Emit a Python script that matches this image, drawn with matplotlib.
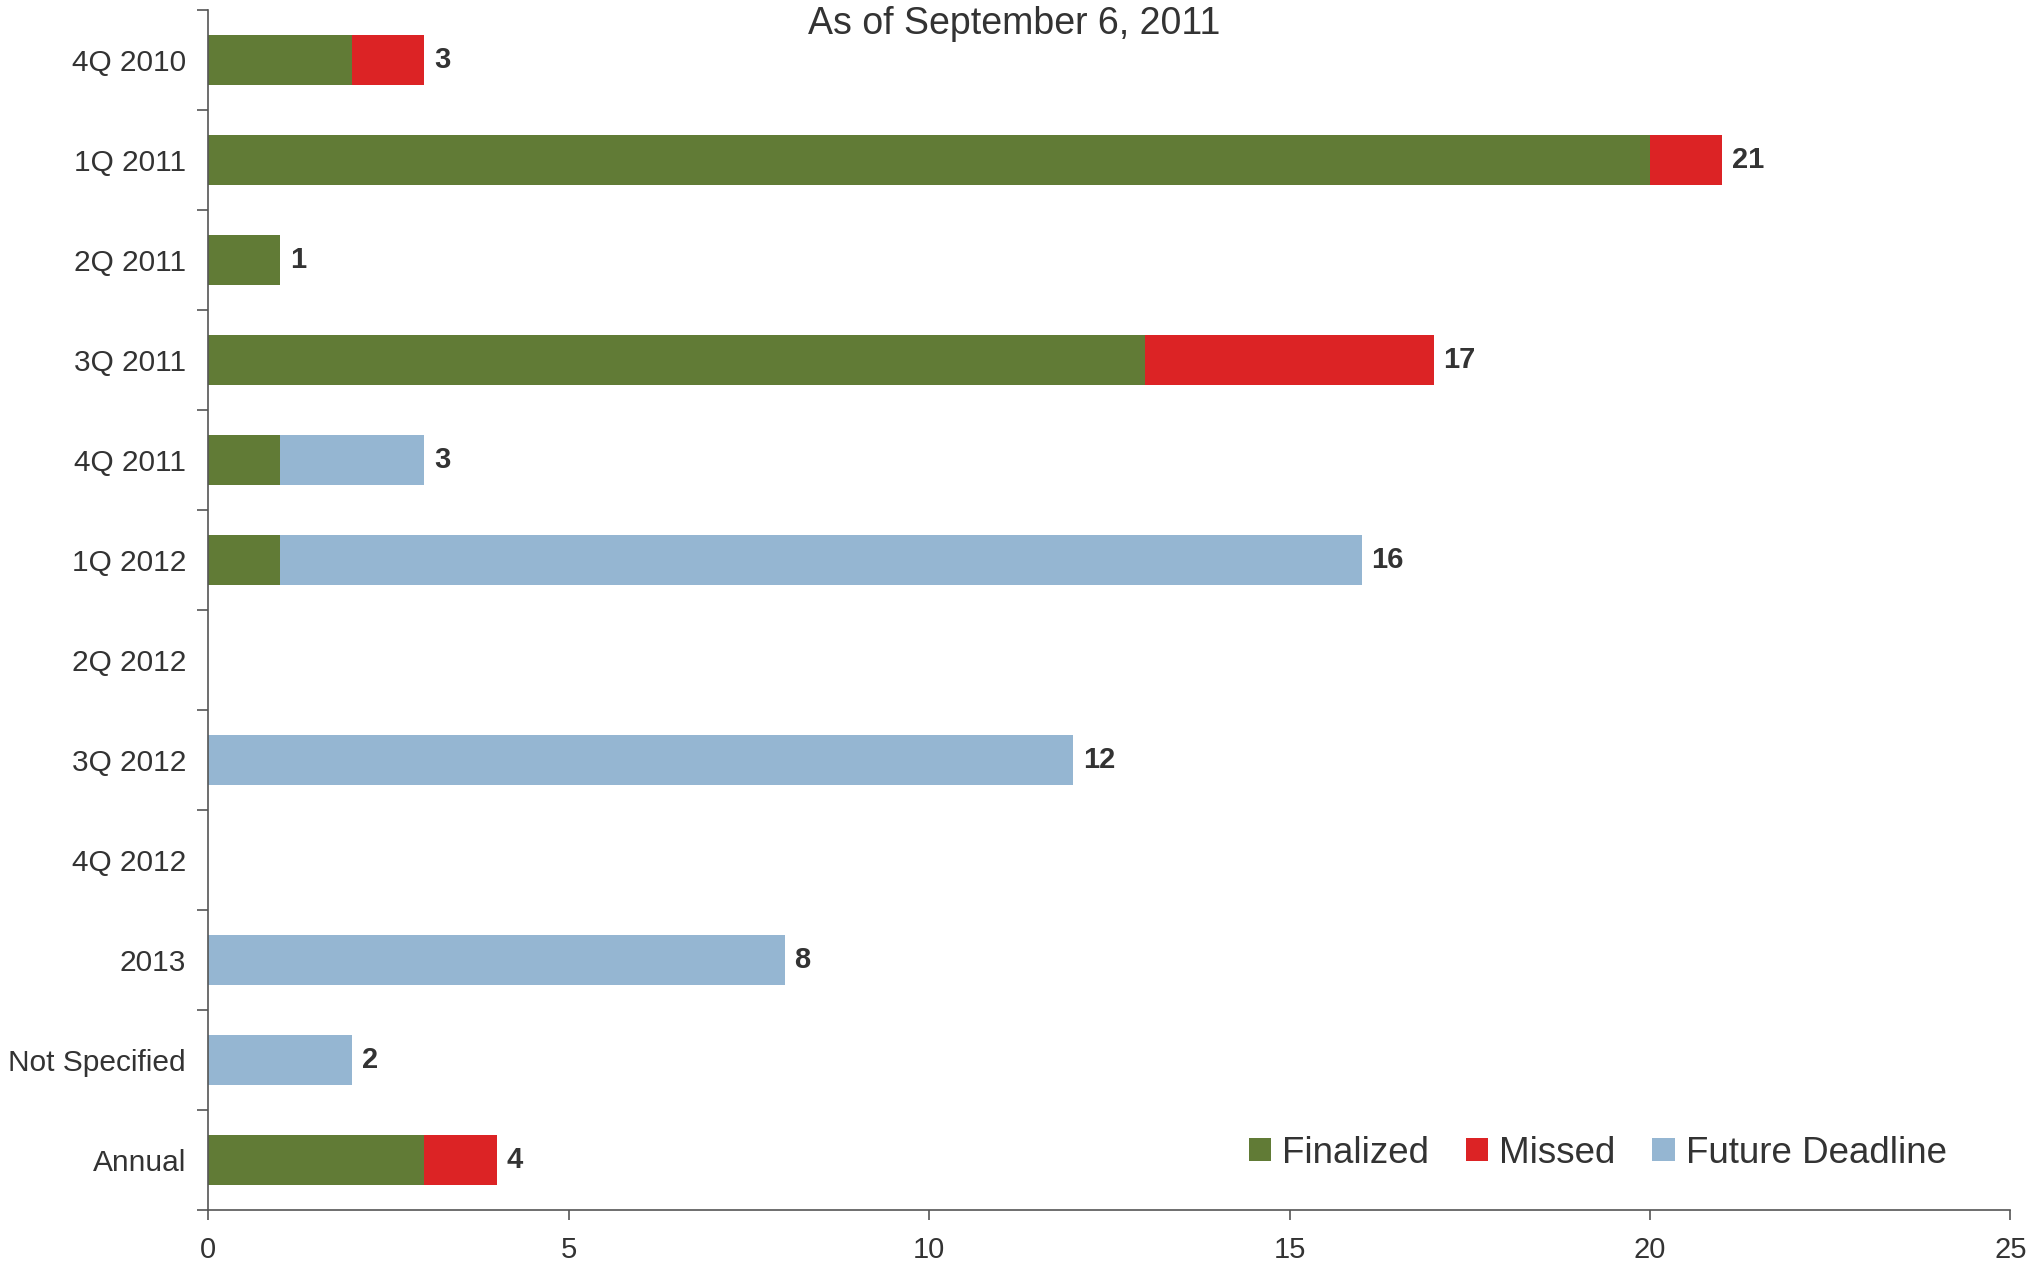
import numpy as np
import matplotlib
matplotlib.use('Agg')
import matplotlib.pyplot as plt
from matplotlib.ticker import FixedLocator

categories = ["4Q 2010", "1Q 2011", "2Q 2011", "3Q 2011", "4Q 2011", "1Q 2012",
              "2Q 2012", "3Q 2012", "4Q 2012", "2013", "Not Specified", "Annual"]
finalized = [2, 20, 1, 13, 1, 1, 0, 0, 0, 0, 0, 3]
missed = [1, 1, 0, 4, 0, 0, 0, 0, 0, 0, 0, 1]
future = [0, 0, 0, 0, 2, 15, 0, 12, 0, 8, 2, 0]
x_ticks = [0, 5, 10, 15, 20, 25]

green = "#617b36"
red = "#dc2325"
blue = "#95b6d2"
txt = "#333333"
plt.rcParams['font.family'] = ['Liberation Sans', 'DejaVu Sans']

fig = plt.figure(figsize=(20.41, 12.70), dpi=100)
ax = fig.add_axes([0.102, 0.0475, 0.883, 0.9445])

y = np.arange(len(categories))
fin = np.array(finalized)
mis = np.array(missed)
fut = np.array(future)
ax.barh(y, fin, height=0.5, color=green, label="Finalized")
ax.barh(y, mis, height=0.5, left=fin, color=red, label="Missed")
ax.barh(y, fut, height=0.5, left=fin + mis, color=blue, label="Future Deadline")

totals = fin + mis + fut
for i in range(len(categories)):
  if totals[i] > 0:
    ax.annotate(str(totals[i]), (totals[i], y[i]), xytext=(7, 0), textcoords="offset points",
                ha="left", va="center", fontsize=21, fontweight="bold", color=txt)

ax.set_xlim(0, 25)
ax.set_ylim(len(categories) - 0.5, -0.5)
ax.set_xticks(x_ticks)
ax.set_yticks(y)
ax.set_yticklabels(categories)
ax.yaxis.set_minor_locator(FixedLocator(np.arange(-0.5, len(categories), 1)))
ax.tick_params(axis="y", which="major", length=0, pad=16, labelsize=21.5, labelcolor=txt)
ax.tick_params(axis="y", which="minor", length=8, width=1.2, color="#555555", direction="out")
ax.tick_params(axis="x", length=7, width=1.2, color="#555555", pad=12, labelsize=21, labelcolor=txt)

for s in ["top", "right"]:
  ax.spines[s].set_visible(False)
ax.spines["left"].set_color("#555555")
ax.spines["bottom"].set_color("#555555")
ax.spines["left"].set_linewidth(1.2)
ax.spines["bottom"].set_linewidth(1.2)

fig.text(0.497, 0.981, "As of September 6, 2011", ha="center", va="center",
         fontsize=27, color=txt)

ax.legend(loc="lower right", bbox_to_anchor=(0.983, 0.005), ncol=3, frameon=False,
          fontsize=26.5, handlelength=0.6, handleheight=0.6, handletextpad=0.3,
          columnspacing=1.0, labelcolor=txt)

fig.savefig("out.png", dpi=100)
